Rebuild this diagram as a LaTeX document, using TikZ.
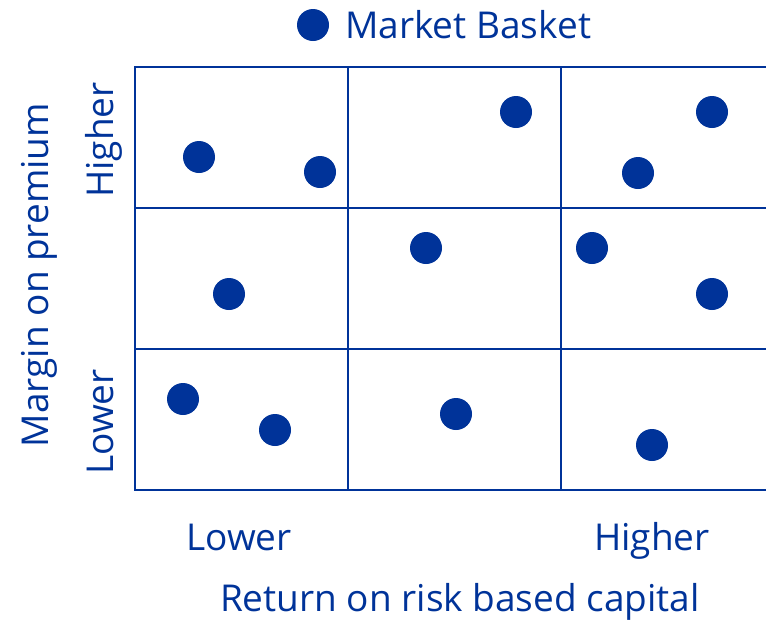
\documentclass[tikz,border=0pt]{standalone}
\usepackage{fontspec}
\setmainfont{Open Sans}
\definecolor{navy}{RGB}{0,51,153}
\begin{document}
\begin{tikzpicture}[x=1pt,y=-1pt,
  gridline/.style={draw=navy,line width=2.8pt},
  basket/.style={circle,fill=navy,inner sep=0pt,minimum size=32pt},
  lbl/.style={text=navy,font=\fontsize{37}{40}\selectfont,inner sep=0pt,anchor=base}]
\useasboundingbox (0,0) rectangle (766,622);
% matrix frame and dividers
\draw[gridline] (766,67) -- (135,67) -- (135,490) -- (766,490);
\draw[gridline] (135,208) -- (766,208);
\draw[gridline] (135,349) -- (766,349);
\draw[gridline] (348,67) -- (348,490);
\draw[gridline] (561,67) -- (561,490);
% legend
\node[basket] (key) at (313,25) {};
\node[lbl,anchor=base west] (keytext) at (345,38) {Market Basket};
% market baskets
\foreach \n/\x/\y in {a/199/157, b/320/172, c/516/112, d/712/112, e/638/173,
  f/426/248, g/592/248, h/229/294, i/712/294, j/183/399, k/275/430,
  l/456/414, m/652/445}
  \node[basket] (\n) at (\x,\y) {};
% axis labels
\node[lbl,rotate=90] (yhi) at (113,140) {Higher};
\node[lbl,rotate=90] (ylo) at (113,422) {Lower};
\node[lbl,rotate=90] (ytitle) at (48,275) {Margin on premium};
\node[lbl] (xlo) at (239,550) {Lower};
\node[lbl] (xhi) at (652,550) {Higher};
\node[lbl] (xtitle) at (460,611) {Return on risk based capital};
\end{tikzpicture}
\end{document}
